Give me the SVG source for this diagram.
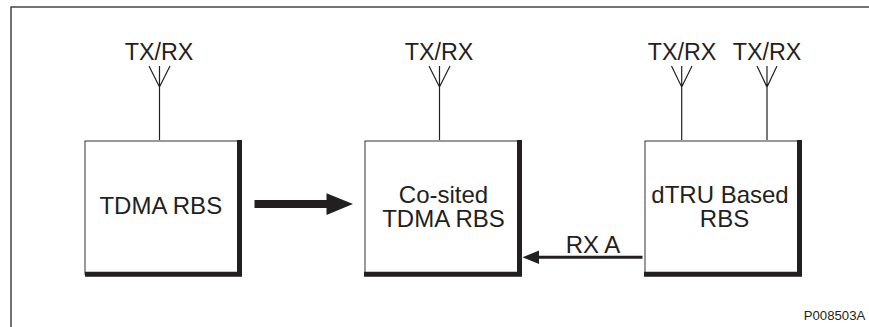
<svg xmlns="http://www.w3.org/2000/svg" width="869" height="327" viewBox="0 0 869 327">
<style>
text{font-family:"Liberation Sans",Arial,sans-serif;fill:#231f20;font-size:24px;text-anchor:middle}
text.tx{font-size:23.300px}
.box{fill:#fff;stroke:#555;stroke-width:1.2}
.shadow{fill:none;stroke:#231f20;stroke-width:5}
.ant{fill:none;stroke:#231f20;stroke-width:1.2}
.lnk{fill:none;stroke:#231f20}
</style>
<rect width="869" height="327" fill="#fff"/>
<g id="frame"><path d="M11 327V7H869" fill="none" stroke="#444" stroke-width="1.500"/></g>
<g id="tdma-rbs">
<rect class="box" x="85" y="141" width="155" height="133"/>
<path class="shadow" d="M239.500 140V274.300H85"/>
<text x="160.800" y="213.500">TDMA RBS</text>
<text class="tx" x="159" y="60">TX/RX</text>
<path class="ant" d="M159.500 140V86M149 66L159.500 87L170 66M159.500 66V86"/>
</g>
<g id="cosited-rbs">
<rect class="box" x="365" y="141" width="155" height="133"/>
<path class="shadow" d="M519.500 140V274.300H364"/>
<text x="443.500" y="202.500">Co-sited</text>
<text x="443.500" y="226.500">TDMA RBS</text>
<text class="tx" x="439" y="60">TX/RX</text>
<path class="ant" d="M439.500 140V86M429 66L439.500 87L450 66M439.500 66V86"/>
</g>
<g id="dtru-rbs">
<rect class="box" x="645" y="141" width="155" height="133"/>
<path class="shadow" d="M799.500 140V274.300H644"/>
<text x="720" y="202.500">dTRU Based</text>
<text x="724.500" y="226.500">RBS</text>
<text class="tx" x="682" y="60">TX/RX</text>
<text class="tx" x="767" y="60">TX/RX</text>
<path class="ant" d="M681.700 140V86M671.500 66L681.700 87L692 66M681.700 66V86"/>
<path class="ant" d="M767 140V86M757 66L767 87L777 66M767 66V86"/>
</g>
<g id="connectors">
<path class="lnk" stroke-width="8" d="M254.500 204H327"/>
<path d="M326.500 193.300L353 204L326.500 215Z" fill="#231f20"/>
<path class="lnk" stroke-width="3" d="M538 257.300H642.500"/>
<path d="M522.500 257.300L539 250.500V264Z" fill="#231f20"/>
</g>
<text x="593" y="252.500">RX A</text>
<text x="834.500" y="320" style="font-size:13.200px">P008503A</text>
</svg>
